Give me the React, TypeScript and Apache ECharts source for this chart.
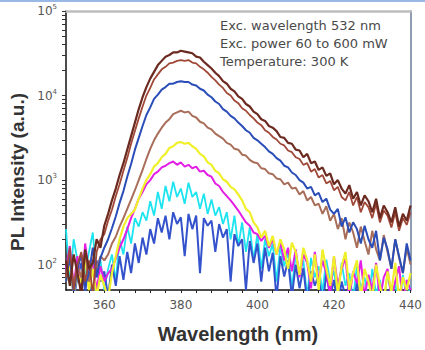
import React, { useEffect, useRef } from "react";
import * as echarts from "echarts";

// Wavelength grid (nm)
const wavelengths = [
  350, 351, 352, 353, 354, 355, 356, 357, 358, 359,
  360, 361, 362, 363, 364, 365, 366, 367, 368, 369,
  370, 371, 372, 373, 374, 375, 376, 377, 378, 379,
  380, 381, 382, 383, 384, 385, 386, 387, 388, 389,
  390, 391, 392, 393, 394, 395, 396, 397, 398, 399,
  400, 401, 402, 403, 404, 405, 406, 407, 408, 409,
  410, 411, 412, 413, 414, 415, 416, 417, 418, 419,
  420, 421, 422, 423, 424, 425, 426, 427, 428, 429,
  430, 431, 432, 433, 434, 435, 436, 437, 438, 439,
  440,
];

// log10 of PL intensity (a.u.), one array per excitation power
const logA = [
  2.05, 1.75, 2.12, 1.9, 1.65, 2.18, 1.95, 2.02, 2.3, 2.2,
  2.46, 2.6, 2.76, 2.9, 3.06, 3.2, 3.36, 3.52, 3.68, 3.84,
  3.98, 4.1, 4.2, 4.28, 4.36, 4.41, 4.46, 4.48, 4.51, 4.51,
  4.53, 4.52, 4.51, 4.5, 4.46, 4.45, 4.4, 4.36, 4.32, 4.27,
  4.23, 4.17, 4.14, 4.08, 4.05, 3.99, 3.96, 3.9, 3.87, 3.81,
  3.78, 3.72, 3.7, 3.64, 3.62, 3.58, 3.51, 3.5, 3.44, 3.43,
  3.36, 3.35, 3.27, 3.31, 3.2, 3.22, 3.12, 3.15, 3.05, 3.08,
  2.95, 3.0, 2.9, 2.84, 2.94, 2.78, 2.86, 2.7, 2.82, 2.75,
  2.62, 2.78, 2.55, 2.7, 2.62, 2.5, 2.68, 2.45, 2.6, 2.52,
  2.7,
];
const logB = [
  1.85, 2.2, 1.7, 2.0, 2.15, 1.8, 2.05, 1.65, 2.15, 2.3,
  2.36, 2.52, 2.65, 2.81, 2.95, 3.11, 3.26, 3.43, 3.58, 3.73,
  3.87, 4.0, 4.09, 4.19, 4.25, 4.31, 4.34, 4.38, 4.39, 4.41,
  4.42, 4.41, 4.42, 4.39, 4.38, 4.34, 4.31, 4.27, 4.22, 4.18,
  4.13, 4.09, 4.03, 4.0, 3.94, 3.91, 3.85, 3.82, 3.77, 3.73,
  3.68, 3.65, 3.59, 3.56, 3.51, 3.48, 3.43, 3.41, 3.35, 3.33,
  3.27, 3.25, 3.18, 3.2, 3.1, 3.13, 3.03, 3.06, 2.96, 2.99,
  2.88, 2.92, 2.8, 2.76, 2.86, 2.7, 2.8, 2.62, 2.74, 2.68,
  2.55, 2.72, 2.5, 2.64, 2.58, 2.44, 2.62, 2.4, 2.55, 2.47,
  2.62,
];
const logC = [
  1.8, 2.1, 1.65, 1.95, 2.12, 1.75, 1.9, 2.2, 1.85, 2.08,
  2.2, 2.3, 2.43, 2.57, 2.73, 2.87, 3.04, 3.19, 3.36, 3.5,
  3.64, 3.77, 3.86, 3.96, 4.01, 4.07, 4.1, 4.14, 4.14, 4.16,
  4.17, 4.16, 4.16, 4.13, 4.12, 4.08, 4.06, 4.01, 3.98, 3.93,
  3.9, 3.84, 3.81, 3.76, 3.73, 3.68, 3.64, 3.59, 3.56, 3.5,
  3.47, 3.43, 3.39, 3.34, 3.31, 3.26, 3.23, 3.17, 3.15, 3.09,
  3.06, 3.0, 2.97, 2.9, 2.92, 2.82, 2.85, 2.74, 2.78, 2.65,
  2.6, 2.66, 2.45, 2.56, 2.38, 2.5, 2.42, 2.25, 2.46, 2.3,
  2.2, 2.4, 2.05, 2.32, 2.18, 1.95, 2.3, 2.1, 1.9, 2.25,
  2.05,
];
const logD = [
  1.9, 2.1, 1.75, 2.0, 1.85, 2.15, 1.8, 2.05, 1.95, 2.1,
  2.05, 2.12, 2.25, 2.33, 2.45, 2.55, 2.66, 2.77, 2.88, 3.0,
  3.12, 3.25, 3.37, 3.47, 3.55, 3.62, 3.68, 3.72, 3.78, 3.8,
  3.82, 3.8, 3.81, 3.76, 3.74, 3.69, 3.67, 3.62, 3.6, 3.55,
  3.52, 3.49, 3.44, 3.42, 3.37, 3.36, 3.3, 3.29, 3.24, 3.21,
  3.2, 3.14, 3.13, 3.08, 3.07, 3.02, 3.01, 2.95, 2.97, 2.9,
  2.91, 2.83, 2.87, 2.76, 2.8, 2.7, 2.72, 2.6, 2.69, 2.52,
  2.6, 2.42, 2.55, 2.3, 2.5, 2.38, 2.2, 2.45, 2.28, 2.12,
  2.4, 2.18, 2.05, 2.35, 2.15, 1.95, 2.3, 2.08, 1.9, 2.2,
  2.0,
];
const logE = [
  1.8, 2.02, 1.65, 1.9, 1.78, 2.08, 1.7, 1.95, 1.62, 1.88,
  1.75, 1.6, 1.9, 2.1, 2.3, 2.45, 2.55, 2.6, 2.65, 2.78,
  2.9, 3.0, 3.07, 3.16, 3.2, 3.27, 3.31, 3.38, 3.4, 3.44,
  3.45, 3.43, 3.44, 3.4, 3.37, 3.31, 3.28, 3.21, 3.18, 3.11,
  3.08, 3.01, 2.98, 2.92, 2.89, 2.83, 2.76, 2.66, 2.62, 2.5,
  2.44, 2.32, 2.4, 2.22, 2.34, 2.12, 2.3, 2.18, 1.95, 2.26,
  2.15, 1.88, 2.2, 2.05, 1.8, 2.12, 1.7, 2.18, 1.95, 1.75,
  2.1, 1.65, 1.98, 2.15, 1.7, 1.9, 2.05, 1.6, 1.95, 1.8,
  1.6, 2.0, 1.75, 1.55, 1.92, 1.68, 2.02, 1.6, 1.85, 1.7,
  1.9,
];
const logF = [
  1.95, 2.22, 1.75, 2.1, 1.65, 2.25, 1.9, 2.02, 1.7, 1.98,
  1.8, 1.9, 1.95, 2.07, 2.2, 2.3, 2.42, 2.55, 2.66, 2.78,
  2.86, 2.95, 3.0, 3.07, 3.1, 3.15, 3.17, 3.2, 3.22, 3.18,
  3.21, 3.16, 3.18, 3.14, 3.16, 3.1, 3.11, 3.06, 3.04, 2.96,
  2.93, 2.86, 2.81, 2.76, 2.7, 2.64, 2.57, 2.5, 2.46, 2.38,
  2.36, 2.28, 2.34, 2.2, 2.3, 2.12, 2.26, 2.05, 2.2, 1.92,
  2.18, 1.85, 2.12, 2.02, 1.72, 2.15, 1.8, 2.05, 1.9, 1.65,
  2.1, 1.75, 1.95, 2.08, 1.6, 1.92, 1.78, 2.05, 1.62, 1.88,
  1.7, 2.02, 1.58, 1.85, 1.95, 1.6, 1.8, 1.98, 1.55, 1.82,
  1.7,
];
const logG = [
  2.42, 1.8, 2.3, 2.05, 1.72, 1.9, 2.15, 2.38, 1.85, 2.05,
  1.7, 1.95, 2.12, 1.8, 2.3, 2.12, 2.45, 2.25, 2.55, 2.45,
  2.62, 2.52, 2.75, 2.58, 2.86, 2.66, 2.93, 2.75, 2.98, 2.8,
  2.9, 2.72, 2.97, 2.8, 2.86, 2.66, 2.84, 2.6, 2.77, 2.58,
  2.68, 2.48, 2.62, 2.3, 2.58, 2.22, 2.5, 2.15, 2.44, 2.05,
  2.36, 1.95, 2.3, 2.1, 2.25, 1.8, 2.22, 1.98, 2.15, 1.72,
  2.12, 1.9, 2.05, 1.62, 2.08, 1.85, 1.98, 1.68, 2.06, 1.8,
  1.92, 1.62, 2.02, 1.75, 1.9, 1.58, 2.0, 1.72, 1.85, 1.55,
  1.95, 1.65, 1.82, 1.55, 1.9, 1.62, 1.78, 1.5, 1.88, 1.6,
  1.75,
];
const logH = [
  1.9, 2.12, 1.6, 1.85, 2.02, 1.68, 1.95, 1.55, 2.05, 1.8,
  1.92, 1.62, 2.0, 1.75, 2.1, 1.82, 2.15, 1.9, 2.25, 2.02,
  2.32, 2.12, 2.42, 2.25, 2.55, 2.38, 2.58, 2.3, 2.62, 2.48,
  2.56, 2.1, 2.6, 2.42, 2.58, 1.9, 2.55, 2.46, 2.52, 2.15,
  2.48, 2.32, 2.42, 1.8, 2.36, 2.22, 2.3, 1.7, 2.28, 2.02,
  2.25, 1.8, 2.2, 1.92, 2.14, 1.6, 2.1, 1.86, 2.05, 1.62,
  2.0, 1.72, 1.96, 1.55, 1.92, 1.75, 1.88, 1.5, 1.9, 1.62,
  1.82, 1.5, 1.8, 1.62, 1.75, 1.45, 1.8, 1.55, 1.7, 1.42,
  1.72, 1.5, 1.65, 1.4, 1.7, 1.48, 1.6, 1.38, 1.65, 1.42,
  1.55,
];

const xLabelValues = [360, 380, 400, 420, 440];
const xTickValues = [352, 356, 360, 364, 368, 372, 376, 380, 384, 388, 392, 396, 400, 404, 408, 412, 416, 420, 424, 428, 432, 436, 440];
const yDecades = [2, 3, 4, 5];
const annotationLines = [
  "Exc. wavelength 532 nm",
  "Exc. power 60 to 600 mW",
  "Temperature: 300 K",
];

const Y_MIN = 1.7;
const Y_MAX = 5;

export default function App() {
  const ref = useRef<HTMLDivElement>(null);
  useEffect(() => {
    if (!ref.current) return;
    const chart = echarts.init(ref.current, undefined, { renderer: "svg" });

    const yTicks: number[] = [];
    [1, 2, 3, 4].forEach((d) => {
      for (let k = 1; k <= 9; k++) {
        const v = d + Math.log10(k);
        if (v >= Y_MIN - 1e-9 && v <= Y_MAX + 1e-9) yTicks.push(v);
      }
    });
    yTicks.push(5);

    const mk = (vals: number[], color: string, width: number, z: number) => ({
      type: "line",
      data: wavelengths.map((w, i) => [w, vals[i]]),
      showSymbol: false,
      symbol: "none",
      lineStyle: { color, width },
      z,
      clip: true,
      silent: true,
    });

    const font = "DejaVu Sans";

    chart.setOption({
      animation: false,
      backgroundColor: "#ffffff",
      grid: { left: 66, right: 14, top: 11, bottom: 60, containLabel: false },
      xAxis: [
        {
          type: "value",
          min: 350,
          max: 440,
          axisLine: { show: true, lineStyle: { color: "#111", width: 1.5 } },
          axisTick: { show: true, inside: false, length: 3, customValues: xTickValues, lineStyle: { color: "#222", width: 1 } },
          axisLabel: { customValues: xLabelValues, color: "#555", fontSize: 12, fontFamily: font, margin: 9 },
          splitLine: { show: false },
        },
        {
          type: "value",
          position: "top",
          min: 350,
          max: 440,
          axisLine: { show: true, onZero: false, lineStyle: { color: "#bdbdbd", width: 2.5 } },
          axisTick: { show: false },
          axisLabel: { show: false },
          splitLine: { show: false },
        },
      ],
      yAxis: [
        {
          type: "value",
          min: Y_MIN,
          max: Y_MAX,
          axisLine: { show: true, lineStyle: { color: "#111", width: 1.5 } },
          axisTick: { show: true, inside: false, length: 4, customValues: yTicks, lineStyle: { color: "#333", width: 1 } },
          axisLabel: {
            customValues: yDecades,
            margin: 9,
            formatter: (v: number) => `{b|10}{s|${Math.round(v)}}`,
            rich: {
              b: { fontSize: 12, fontFamily: font, color: "#555" },
              s: { fontSize: 7, fontFamily: font, color: "#555", padding: [0, 0, 8, 0] },
            },
          },
          splitLine: { show: false },
        },
        {
          type: "value",
          position: "right",
          min: Y_MIN,
          max: Y_MAX,
          axisLine: { show: true, onZero: false, lineStyle: { color: "#6b7b99", width: 1.5 } },
          axisTick: { show: false },
          axisLabel: { show: false },
          splitLine: { show: false },
        },
      ],
      series: [
        mk(logG, "#1ee4f0", 1.8, 2),
        mk(logH, "#3352cc", 2, 3),
        mk(logF, "#e41ee4", 2, 4),
        mk(logE, "#f0f02a", 2.2, 5),
        mk(logD, "#a86e5a", 2, 6),
        mk(logC, "#2a4db8", 2, 7),
        mk(logB, "#a04838", 1.8, 8),
        mk(logA, "#6b2a20", 2.2, 9),
      ],
      graphic: [
        { type: "rect", shape: { x: 0, y: 0, width: 425, height: 2 }, style: { fill: "#9ab8e6" }, silent: true },
        ...annotationLines.map((t, i) => ({
          type: "text",
          x: 220,
          y: 25 + i * 18.3,
          style: { text: t, fill: "#4a4a4a", fontSize: 13, fontFamily: font, verticalAlign: "middle" },
          silent: true,
          z: 20,
        })),
        {
          type: "text",
          x: 17,
          y: 172,
          rotation: Math.PI / 2,
          style: { text: "PL Intensity (a.u.)", fill: "#333", fontSize: 19, fontWeight: "bold", fontFamily: "Liberation Sans", align: "center", verticalAlign: "middle" },
          silent: true,
        },
        {
          type: "text",
          x: 238,
          y: 334,
          style: { text: "Wavelength (nm)", fill: "#333", fontSize: 20, fontWeight: "bold", fontFamily: "Liberation Sans", align: "center", verticalAlign: "middle" },
          silent: true,
        },
      ],
    });
    return () => chart.dispose();
  }, []);
  return <div ref={ref} style={{ position: "fixed", left: 0, top: 0, width: 425, height: 350 }} />;
}
